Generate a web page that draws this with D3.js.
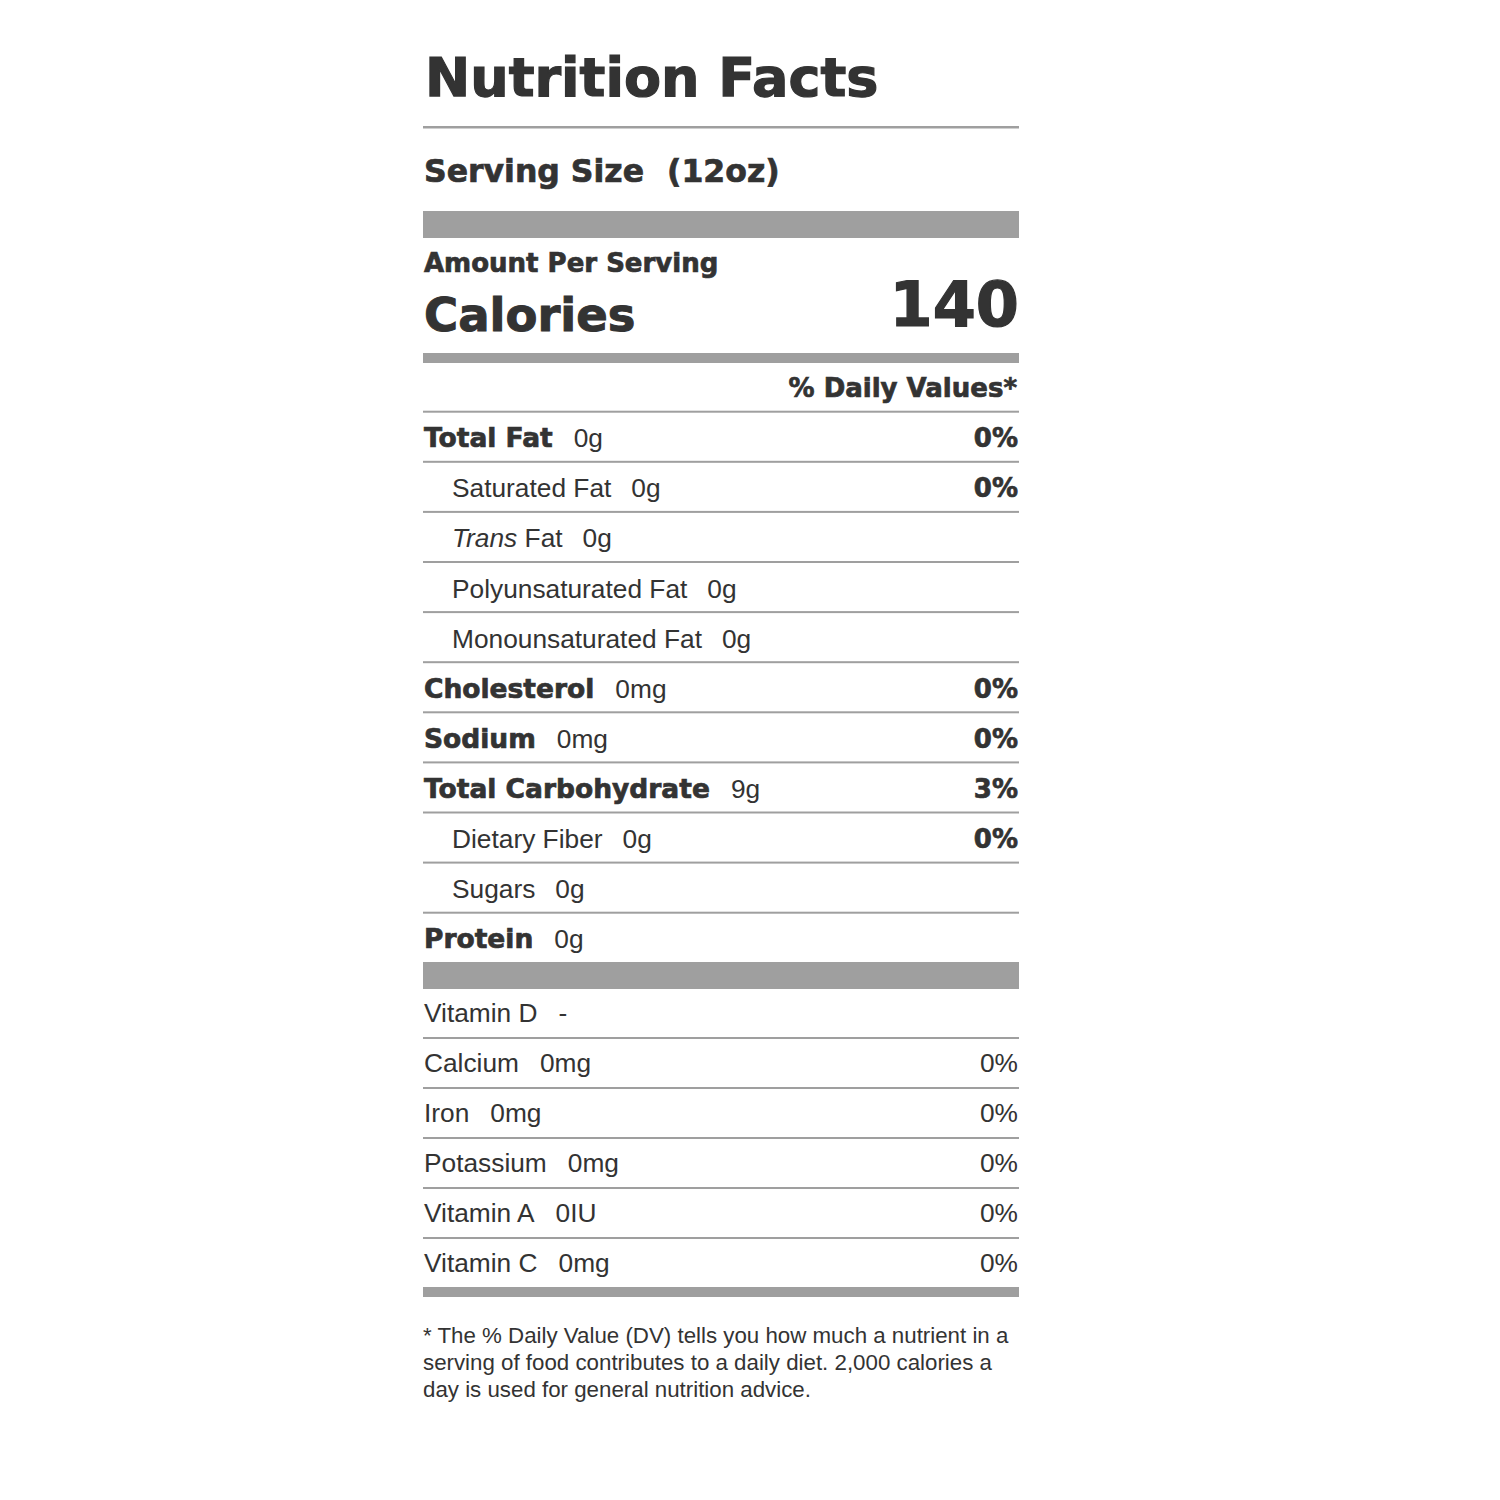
<!DOCTYPE html>
<html lang="en">
<head>
    <meta charset="utf-8">
    <title>Nutrition Facts</title>
    <style type="text/css">
        body { margin: 0; background: white; }
        .bold { font-family: "DejaVu Sans", sans-serif; font-weight: bold; fill: #333; stroke: #333; stroke-width: 0.7px; }
        .reg { font-family: "Liberation Sans", Arial, sans-serif; fill: #333; stroke: none; font-weight: normal; }
    </style>
    <script type="text/javascript" src="https://d3js.org/d3.v7.min.js"></script>
</head>
<body>
<script type="text/javascript">
    // label data
    let servingSize = "(12oz)";
    let calories = 140;

    let nutrients = ["Total Fat", "Saturated Fat", "Trans Fat", "Polyunsaturated Fat", "Monounsaturated Fat",
                     "Cholesterol", "Sodium", "Total Carbohydrate", "Dietary Fiber", "Sugars", "Protein"];
    let nutrientAmounts = ["0g", "0g", "0g", "0g", "0g", "0mg", "0mg", "9g", "0g", "0g", "0g"];
    let nutrientDV = ["0%", "0%", "", "", "", "0%", "0%", "3%", "0%", "", ""];
    let nutrientLevel = [0, 1, 1, 1, 1, 0, 0, 0, 1, 1, 0];   // 1 = sub-nutrient

    let vitamins = ["Vitamin D", "Calcium", "Iron", "Potassium", "Vitamin A", "Vitamin C"];
    let vitaminAmounts = ["-", "0mg", "0mg", "0mg", "0IU", "0mg"];
    let vitaminDV = ["", "0%", "0%", "0%", "0%", "0%"];

    let footnote = ["* The % Daily Value (DV) tells you how much a nutrient in a",
                    "serving of food contributes to a daily diet. 2,000 calories a",
                    "day is used for general nutrition advice."];

    let w = 1500, h = 1500;
    let left = 423, right = 1019;
    let ruleColor = "#9f9f9f";

    let svg = d3.select("body").append("svg")
        .attr("width", w)
        .attr("height", h)
        .style("background-color", "white");

    let x = d3.scaleLinear().domain([0, 1]).range([left, right]);

    // header
    svg.append("text").attr("class", "bold")
        .attr("x", 425).attr("y", 96)
        .style("font-size", "54px")
        .style("stroke-width", "1.2px")
        .text("Nutrition Facts");

    svg.append("rect")
        .attr("x", x(0)).attr("y", 126)
        .attr("width", x(1) - x(0)).attr("height", 2.5)
        .attr("fill", ruleColor);

    let serving = svg.append("text").attr("class", "bold")
        .attr("x", 424).attr("y", 182)
        .style("font-size", "31.5px");
    serving.append("tspan").text("Serving Size");
    serving.append("tspan").attr("dx", 23).text(servingSize);

    svg.append("rect")
        .attr("x", x(0)).attr("y", 211)
        .attr("width", x(1) - x(0)).attr("height", 27)
        .attr("fill", ruleColor);

    svg.append("text").attr("class", "bold")
        .attr("x", 424).attr("y", 272)
        .style("font-size", "26px")
        .text("Amount Per Serving");

    svg.append("text").attr("class", "bold")
        .attr("x", 424).attr("y", 331)
        .style("font-size", "46.5px")
        .style("stroke-width", "1px")
        .text("Calories");

    svg.append("text").attr("class", "bold")
        .attr("x", x(1)).attr("y", 326)
        .attr("text-anchor", "end")
        .style("font-size", "62px")
        .style("stroke-width", "1.2px")
        .text(calories);

    svg.append("rect")
        .attr("x", x(0)).attr("y", 353)
        .attr("width", x(1) - x(0)).attr("height", 10)
        .attr("fill", ruleColor);

    svg.append("text").attr("class", "bold")
        .attr("x", 1017).attr("y", 397)
        .attr("text-anchor", "end")
        .style("font-size", "26px")
        .text("% Daily Values*");

    svg.append("rect")
        .attr("x", x(0)).attr("y", 410.7)
        .attr("width", x(1) - x(0)).attr("height", 2)
        .attr("fill", ruleColor);

    // nutrient rows
    let yN = d3.scaleBand()
        .domain(d3.range(nutrients.length))
        .range([411.7, 411.7 + 50.1 * nutrients.length]);

    let nRows = svg.selectAll("g.nutrient")
        .data(nutrients)
        .enter()
        .append("g")
        .attr("class", "nutrient")
        .attr("transform", function (d, i) { return "translate(0," + yN(i) + ")"; });

    let nLabels = nRows.append("text")
        .attr("x", function (d, i) { return nutrientLevel[i] ? 452 : 424; })
        .attr("y", 35.5)
        .attr("class", function (d, i) { return nutrientLevel[i] ? "reg" : "bold"; })
        .style("font-size", function (d, i) { return nutrientLevel[i] ? "26.3px" : "26.5px"; });

    nLabels.each(function (d, i) {
        let t = d3.select(this);
        if (d === "Trans Fat") {
            t.append("tspan").style("font-style", "italic").text("Trans");
            t.append("tspan").text(" Fat");
        } else {
            t.append("tspan").text(d);
        }
        t.append("tspan")
            .attr("class", "reg")
            .style("font-size", "26.3px")
            .attr("dx", nutrientLevel[i] ? 20 : 21)
            .text(nutrientAmounts[i]);
    });

    nRows.append("text")
        .attr("class", "bold")
        .attr("x", 1018).attr("y", 35.5)
        .attr("text-anchor", "end")
        .style("font-size", "26px")
        .text(function (d, i) { return nutrientDV[i]; });

    // rule under each nutrient row except the last (bar follows)
    nRows.filter(function (d, i) { return i < nutrients.length - 1; })
        .append("rect")
        .attr("x", x(0)).attr("y", yN.bandwidth() - 1)
        .attr("width", x(1) - x(0)).attr("height", 2)
        .attr("fill", ruleColor);

    // gray bar between sections
    svg.append("rect")
        .attr("x", x(0)).attr("y", 962)
        .attr("width", x(1) - x(0)).attr("height", 27)
        .attr("fill", ruleColor);

    // vitamin rows
    let yV = d3.scaleBand()
        .domain(d3.range(vitamins.length))
        .range([988, 988 + 50 * vitamins.length]);

    let vRows = svg.selectAll("g.vitamin")
        .data(vitamins)
        .enter()
        .append("g")
        .attr("class", "vitamin")
        .attr("transform", function (d, i) { return "translate(0," + yV(i) + ")"; });

    let vLabels = vRows.append("text")
        .attr("class", "reg")
        .attr("x", 424).attr("y", 34)
        .style("font-size", "26.3px");
    vLabels.append("tspan").text(function (d) { return d; });
    vLabels.append("tspan").attr("dx", 21).text(function (d, i) { return vitaminAmounts[i]; });

    vRows.append("text")
        .attr("class", "reg")
        .attr("x", 1018).attr("y", 34)
        .attr("text-anchor", "end")
        .style("font-size", "26.3px")
        .text(function (d, i) { return vitaminDV[i]; });

    vRows.filter(function (d, i) { return i < vitamins.length - 1; })
        .append("rect")
        .attr("x", x(0)).attr("y", yV.bandwidth() - 1)
        .attr("width", x(1) - x(0)).attr("height", 2)
        .attr("fill", ruleColor);

    // bottom thick bar
    svg.append("rect")
        .attr("x", x(0)).attr("y", 1287)
        .attr("width", x(1) - x(0)).attr("height", 10)
        .attr("fill", ruleColor);

    // footnote
    svg.selectAll("text.foot")
        .data(footnote)
        .enter()
        .append("text")
        .attr("class", "reg foot")
        .attr("x", 423)
        .attr("y", function (d, i) { return 1343 + i * 27; })
        .style("font-size", "22.3px")
        .text(function (d) { return d; });
</script>
</body>
</html>
